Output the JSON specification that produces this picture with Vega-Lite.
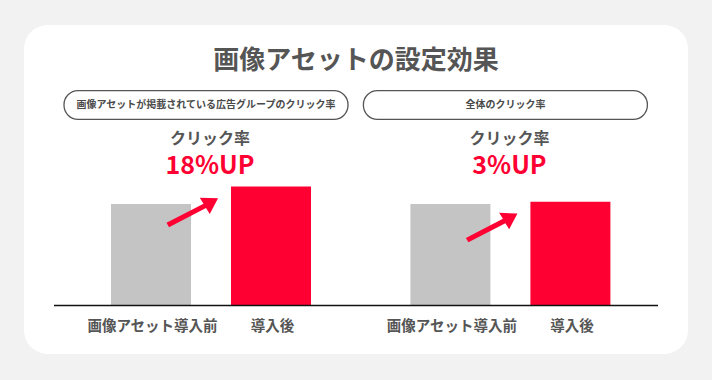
{
  "$schema": "https://vega.github.io/schema/vega-lite/v6.json",
  "width": 712,
  "height": 380,
  "autosize": {"type": "fit", "contains": "padding"},
  "padding": {"left": 24, "right": 24, "top": 25, "bottom": 26},
  "background": "#f2f2f2",
  "config": {
    "view": {"fill": "white", "stroke": null, "cornerRadius": 24},
    "font": "Noto Sans CJK JP",
    "text": {"font": "Noto Sans CJK JP"}
  },
  "datasets": {
    "bars": [
      {"panel": "画像アセットが掲載されている広告グループのクリック率", "phase": "画像アセット導入前", "value": 100},
      {"panel": "画像アセットが掲載されている広告グループのクリック率", "phase": "導入後", "value": 117.2},
      {"panel": "全体のクリック率", "phase": "画像アセット導入前", "value": 100},
      {"panel": "全体のクリック率", "phase": "導入後", "value": 102.3}
    ],
    "panels": [
      {"panel": "画像アセットが掲載されている広告グループのクリック率", "metric": "クリック率", "lift": "18%UP", "side": "left"},
      {"panel": "全体のクリック率", "metric": "クリック率", "lift": "3%UP", "side": "right"}
    ]
  },
  "encoding": {
    "x": {
      "field": "panel",
      "type": "nominal",
      "axis": null,
      "scale": {
        "domain": ["画像アセットが掲載されている広告グループのクリック率", "全体のクリック率"],
        "paddingInner": 0.332,
        "paddingOuter": 0.2749,
        "align": 0.5286
      }
    }
  },
  "layer": [
    {
      "data": {"name": "panels"},
      "mark": {"type": "bar", "width": 284, "cornerRadius": 14, "fill": "white", "stroke": "#555555", "strokeWidth": 1.3, "xOffset": -5},
      "encoding": {
        "y": {"datum": 211.6, "type": "quantitative", "axis": null, "scale": {"domain": [-47.78, 276.35], "nice": false, "zero": false}},
        "y2": {"datum": 183.4}
      }
    },
    {
      "data": {"name": "panels"},
      "mark": {"type": "text", "fontSize": 10, "fontWeight": "bold", "color": "#4a4a4a", "dx": -5, "baseline": "middle"},
      "encoding": {
        "y": {"datum": 197.5, "type": "quantitative"},
        "text": {"field": "panel"}
      }
    },
    {
      "data": {"name": "panels"},
      "mark": {"type": "text", "fontSize": 16, "fontWeight": "bold", "color": "#555555", "dx": -1, "baseline": "middle"},
      "encoding": {
        "y": {"datum": 164.0, "type": "quantitative"},
        "text": {"field": "metric"}
      }
    },
    {
      "data": {"name": "panels"},
      "mark": {"type": "text", "fontSize": 25, "fontWeight": "bold", "color": "#ff0033", "dx": -1, "baseline": "middle"},
      "encoding": {
        "y": {"datum": 137.6, "type": "quantitative"},
        "text": {"field": "lift"}
      }
    },
    {
      "data": {"name": "bars"},
      "mark": {"type": "bar"},
      "encoding": {
        "xOffset": {"field": "phase", "type": "nominal", "scale": {"domain": ["画像アセット導入前", "導入後"], "paddingInner": 0.3333, "paddingOuter": 0}},
        "y": {"field": "value", "type": "quantitative"},
        "y2": {"datum": 0},
        "color": {"field": "phase", "type": "nominal", "legend": null, "scale": {"domain": ["画像アセット導入前", "導入後"], "range": ["#c4c4c4", "#ff0033"]}}
      }
    },
    {
      "data": {"name": "bars"},
      "transform": [{"filter": "datum.phase === '導入後'"}],
      "mark": {"type": "point", "shape": "M-0.89,0.726L-0.84,0.814L-0.1,0.43L-0.025,0.55L0.141,0.236L-0.225,0.224L-0.15,0.344Z", "size": 10000, "filled": true, "color": "#ff0033", "opacity": 1, "strokeWidth": 0},
      "encoding": {
        "y": {"field": "value", "type": "quantitative"}
      }
    },
    {
      "data": {"name": "panels"},
      "transform": [{"filter": "datum.side === 'left'"}],
      "mark": {"type": "bar", "width": 302, "color": "#111111", "xOffset": -6.01},
      "encoding": {
        "y": {"datum": 0.74, "type": "quantitative"},
        "y2": {"datum": -0.74}
      }
    },
    {
      "data": {"name": "panels"},
      "transform": [{"filter": "datum.side === 'right'"}],
      "mark": {"type": "bar", "width": 302, "color": "#111111", "xOffset": -3.41},
      "encoding": {
        "y": {"datum": 0.74, "type": "quantitative"},
        "y2": {"datum": -0.74}
      }
    },
    {
      "data": {"name": "bars"},
      "mark": {"type": "text", "fontSize": 14.5, "fontWeight": "bold", "color": "#555555", "dx": 1.5, "baseline": "middle"},
      "encoding": {
        "xOffset": {"field": "phase", "type": "nominal"},
        "y": {"datum": -20.9, "type": "quantitative"},
        "text": {"field": "phase"}
      }
    },
    {
      "data": {"values": [{"title": "画像アセットの設定効果"}]},
      "mark": {"type": "text", "fontSize": 26, "fontWeight": "bold", "color": "#555555", "baseline": "middle"},
      "encoding": {
        "x": null,
        "y": {"datum": 240.9, "type": "quantitative"},
        "text": {"field": "title"}
      }
    }
  ]
}
